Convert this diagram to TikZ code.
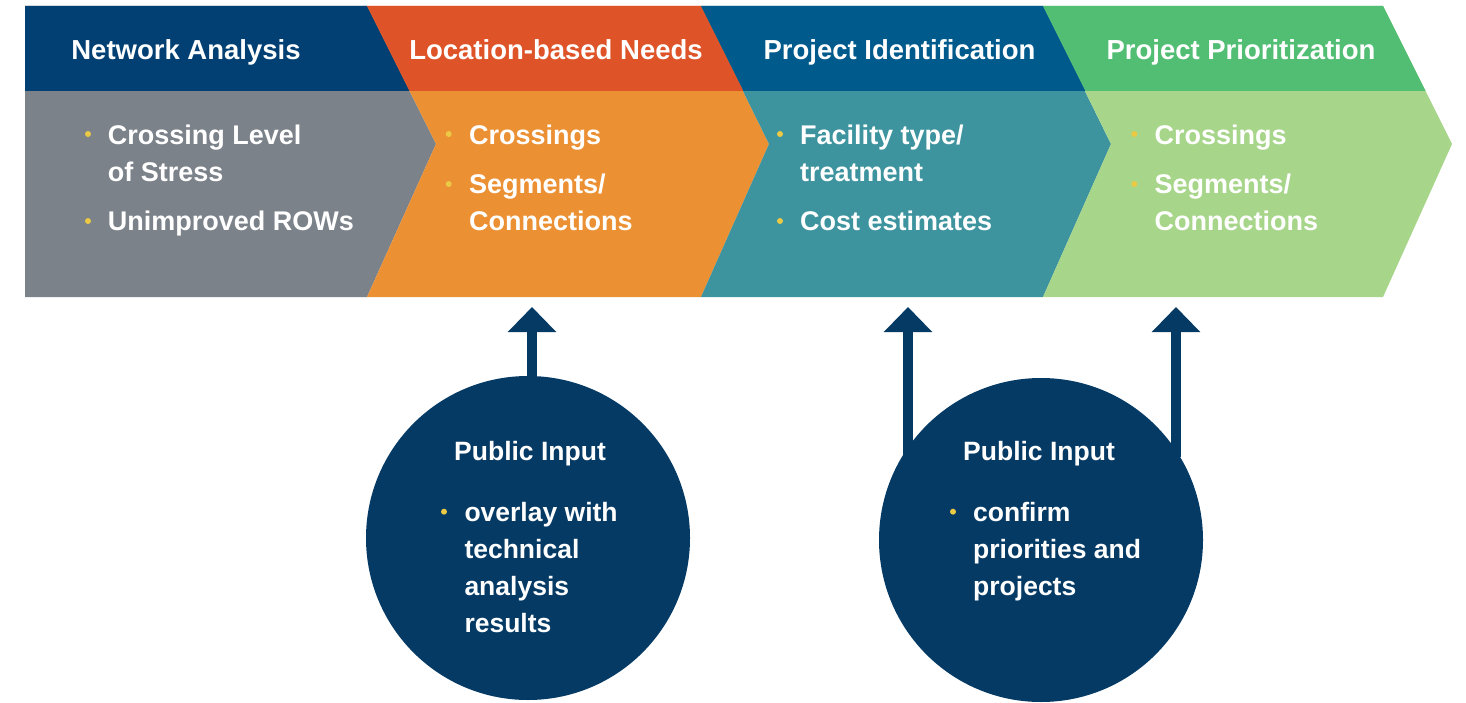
\documentclass[tikz,border=0pt]{standalone}
\usepackage{fontspec}
\setmainfont{Liberation Sans}
\usetikzlibrary{arrows.meta}
\definecolor{hdrA}{HTML}{023F73}
\definecolor{hdrB}{HTML}{DE5428}
\definecolor{hdrC}{HTML}{015A8C}
\definecolor{hdrD}{HTML}{52BE74}
\definecolor{bodyA}{HTML}{7B8289}
\definecolor{bodyB}{HTML}{EC9034}
\definecolor{bodyC}{HTML}{3D949F}
\definecolor{bodyD}{HTML}{A7D58A}
\definecolor{navy}{HTML}{053A65}
\definecolor{dotyellow}{HTML}{EBC944}
\tikzset{
  hdrtext/.style={text=white, inner sep=0pt, anchor=base, font=\fontsize{27.5}{33}\selectfont\bfseries},
  itemtext/.style={text=white, inner sep=0pt, anchor=base west, align=left, font=\fontsize{27}{37.4}\selectfont\bfseries},
  circtext/.style={text=white, inner sep=0pt, anchor=base west, align=left, font=\fontsize{26.5}{37}\selectfont\bfseries},
  bulletdot/.style={circle, fill=dotyellow, inner sep=0pt, minimum size=6pt},
  bubble/.style={circle, fill=navy, inner sep=0pt, minimum size=324pt},
  uparrow/.style={draw=navy, line width=10.5pt, -{Triangle[width=47pt,length=25pt]}},
}
\begin{document}
\begin{tikzpicture}[x=1pt,y=-1pt]
\useasboundingbox (0,0) rectangle (1466,703);
% chevron bodies
\fill[bodyA] (25,6) -- (367,6) -- (436,144) -- (367,297) -- (25,297) -- cycle;
\fill[bodyB] (367,6) -- (701,6) -- (769,144) -- (701,297) -- (367,297) -- (436,144) -- cycle;
\fill[bodyC] (701,6) -- (1043,6) -- (1111,144) -- (1043,297) -- (701,297) -- (769,144) -- cycle;
\fill[bodyD] (1043,6) -- (1383,6) -- (1452,144) -- (1383,297) -- (1043,297) -- (1111,144) -- cycle;
% header bands
\fill[hdrA] (25,6) -- (367,6) -- (409.5,91) -- (25,91) -- cycle;
\fill[hdrB] (367,6) -- (701,6) -- (743.5,91) -- (409.5,91) -- cycle;
\fill[hdrC] (701,6) -- (1043,6) -- (1085.5,91) -- (743.5,91) -- cycle;
\fill[hdrD] (1043,6) -- (1383,6) -- (1425.5,91) -- (1085.5,91) -- cycle;
% header texts
\node[hdrtext] (h1) at (186,59.3) {Network Analysis};
\node[hdrtext] (h2) at (556,59.3) {Location-based Needs};
\node[hdrtext] (h3) at (899.5,59.3) {Project Identification};
\node[hdrtext] (h4) at (1241,59.3) {Project Prioritization};
% items (multi-line nodes: base = baseline of last line)
\node[bulletdot] (d1a) at (88,134) {};
\node[bulletdot] (d1b) at (88,221) {};
\node[itemtext] (t1a) at (107.7,181.7) {Crossing Level\\of Stress};
\node[itemtext] (t1b) at (107.7,230.7) {Unimproved ROWs};
\node[bulletdot] (d2a) at (448.7,134) {};
\node[bulletdot] (d2b) at (448.7,184) {};
\node[itemtext] (t2a) at (469,144.3) {Crossings};
\node[itemtext] (t2b) at (469,230.7) {Segments/\\Connections};
\node[bulletdot] (d3a) at (780,134) {};
\node[bulletdot] (d3b) at (780,221) {};
\node[itemtext] (t3a) at (800,181.7) {Facility type/\\treatment};
\node[itemtext] (t3b) at (800,230.7) {Cost estimates};
\node[bulletdot] (d4a) at (1134.3,134) {};
\node[bulletdot] (d4b) at (1134.3,184) {};
\node[itemtext] (t4a) at (1154.3,144.3) {Crossings};
\node[itemtext] (t4b) at (1154.3,230.7) {Segments/\\Connections};
% arrows
\coordinate (a1s) at (532,400);
\coordinate (a1e) at (532,307);
\coordinate (a2s) at (908,457);
\coordinate (a2e) at (908,307);
\coordinate (a3s) at (1176,457);
\coordinate (a3e) at (1176,307);
\draw[uparrow] (a1s) -- (a1e);
\draw[uparrow] (a2s) -- (a2e);
\draw[uparrow] (a3s) -- (a3e);
% public input bubbles
\node[bubble] (pi1) at (528,538) {};
\node[bubble] (pi2) at (1041,540) {};
\node[hdrtext, font=\fontsize{26.5}{32}\selectfont\bfseries] (pi1t) at (530,460) {Public Input};
\node[hdrtext, font=\fontsize{26.5}{32}\selectfont\bfseries] (pi2t) at (1039,460) {Public Input};
\node[bulletdot] (d5) at (444,511.7) {};
\node[circtext] (t5) at (464.3,632.7) {overlay with\\technical\\analysis\\results};
\node[bulletdot] (d6) at (953,511.7) {};
\node[circtext] (t6) at (973,595.7) {confirm\\priorities and\\projects};
\end{tikzpicture}
\end{document}
